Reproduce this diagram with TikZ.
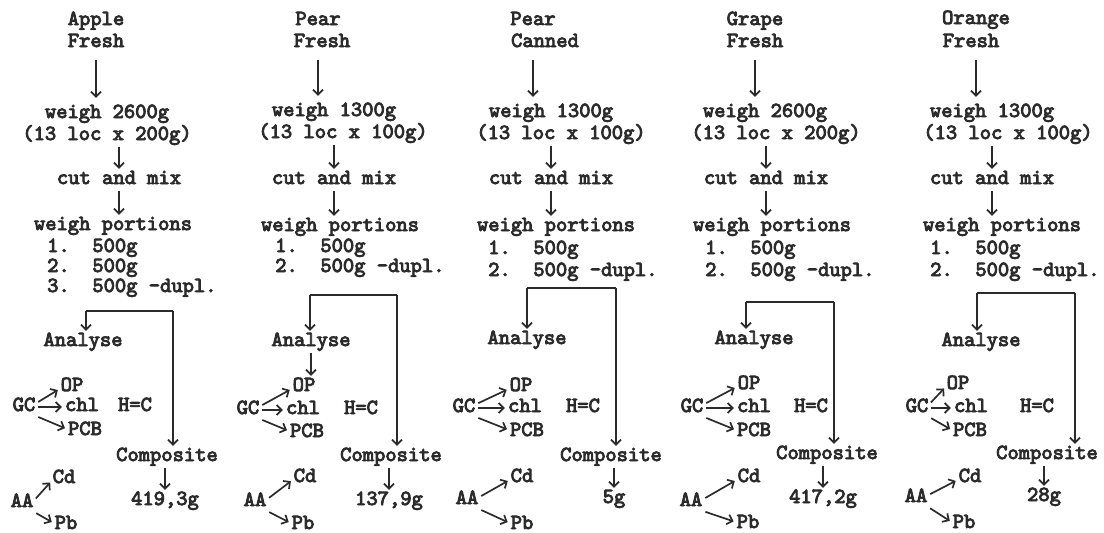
\documentclass[tikz,border=0pt]{standalone}
\usepackage{fontspec}
\newfontfamily\typew{lmmono10-regular.otf}[FakeBold=4]
\usetikzlibrary{arrows.meta}
\definecolor{typeInk}{HTML}{2B2B2B}

\begin{document}
\begin{tikzpicture}[
  x=1pt, y=-1pt,
  every node/.style={
    font=\typew\fontsize{21.5}{24}\selectfont,
    text=typeInk, text height=10pt, text depth=2pt, inner sep=1pt
  },
  item/.style={anchor=west},
  flow/.style={
    draw=typeInk, line width=1.7pt,
    -{Straight Barb[length=5pt,width=10pt]},
    shorten <=4pt, shorten >=4pt
  },
  twig/.style={flow, shorten <=2pt, shorten >=2pt},
  bar/.style={draw=typeInk, line width=1.7pt},
]
\useasboundingbox (0,0) rectangle (1104,533);

% === Apple / Fresh ===
\node (fruit1) at (96,21) {Apple};
\node (kind1) at (96,43) {Fresh};
\node (wg1) at (107,114) {weigh 2600g};
\node (loc1) at (107,136) {(13 loc x 200g)};
\node (cut1) at (119,180) {cut and mix};
\node (por1) at (113,226) {weigh portions};
\node[item] (one1) at (46,248) {1.\ \ 500g};
\node[item] (two1) at (46,268) {2.\ \ 500g};
\node[item] (three1) at (46,288) {3.\ \ 500g -dupl.};
\coordinate (sp1) at (86,311);
\coordinate (cr1) at (173,311);
\node (an1) at (83,342) {Analyse};
\node (op1) at (72,387) {OP};
\node (gc1) at (24,407) {GC};
\node (ch1) at (82,407) {chl};
\node (hc1) at (135,407) {H=C};
\node (pc1) at (85,431) {PCB};
\node (cp1) at (167,457) {Composite};
\node (res1) at (165,501) {419,3g};
\node (cd1) at (64,479) {Cd};
\node (aa1) at (22,503) {AA};
\node (pb1) at (66,525) {Pb};

% === Pear / Fresh ===
\node (fruit2) at (318,21) {Pear};
\node (kind2) at (322,43) {Fresh};
\node (wg2) at (334,112) {weigh 1300g};
\node (loc2) at (343,134) {(13 loc x 100g)};
\node (cut2) at (334,180) {cut and mix};
\node (por2) at (340,227) {weigh portions};
\node[item] (one2) at (274,248) {1.\ \ 500g};
\node[item] (two2) at (274,268) {2.\ \ 500g -dupl.};
\coordinate (sp2) at (310,295);
\coordinate (cr2) at (397,295);
\node (an2) at (311,342) {Analyse};
\node (op2) at (304,387) {OP};
\node (gc2) at (248,410) {GC};
\node (ch2) at (303,410) {chl};
\node (hc2) at (361,410) {H=C};
\node (pc2) at (307,433) {PCB};
\node (cp2) at (391,457) {Composite};
\node (res2) at (389,501) {137,9g};
\node (cd2) at (305,478) {Cd};
\node (aa2) at (255,502) {AA};
\node (pb2) at (303,525) {Pb};

% === Pear / Canned ===
\node (fruit3) at (533,21) {Pear};
\node (kind3) at (545,43) {Canned};
\node (wg3) at (551,113) {weigh 1300g};
\node (loc3) at (561,135) {(13 loc x 100g)};
\node (cut3) at (551,180) {cut and mix};
\node (por3) at (556,227) {weigh portions};
\node[item] (one3) at (487,250) {1.\ \ 500g};
\node[item] (two3) at (487,272) {2.\ \ 500g -dupl.};
\coordinate (sp3) at (527,288);
\coordinate (cr3) at (616,288);
\node (an3) at (527,340) {Analyse};
\node (op3) at (521,387) {OP};
\node (gc3) at (464,408) {GC};
\node (ch3) at (525,408) {chl};
\node (hc3) at (583,408) {H=C};
\node (pc3) at (527,432) {PCB};
\node (cp3) at (611,457) {Composite};
\node (res3) at (614,499) {5g};
\node (cd3) at (522,478) {Cd};
\node (aa3) at (467,500) {AA};
\node (pb3) at (522,525) {Pb};

% === Grape / Fresh ===
\node (fruit4) at (755,21) {Grape};
\node (kind4) at (755,43) {Fresh};
\node (wg4) at (765,113) {weigh 2600g};
\node (loc4) at (776,135) {(13 loc x 200g)};
\node (cut4) at (766,180) {cut and mix};
\node (por4) at (772,227) {weigh portions};
\node[item] (one4) at (704,250) {1.\ \ 500g};
\node[item] (two4) at (704,272) {2.\ \ 500g -dupl.};
\coordinate (sp4) at (746,302);
\coordinate (cr4) at (834,302);
\node (an4) at (754,340) {Analyse};
\node (op4) at (749,385) {OP};
\node (gc4) at (692,408) {GC};
\node (ch4) at (754,408) {chl};
\node (hc4) at (811,408) {H=C};
\node (pc4) at (754,432) {PCB};
\node (cp4) at (827,455) {Composite};
\node (res4) at (823,499) {417,2g};
\node (cd4) at (749,478) {Cd};
\node (aa4) at (691,502) {AA};
\node (pb4) at (748,524) {Pb};

% === Orange / Fresh ===
\node (fruit5) at (976,20) {Orange};
\node (kind5) at (971,43) {Fresh};
\node (wg5) at (992,113) {weigh 1300g};
\node (loc5) at (1008,135) {(13 loc x 100g)};
\node (cut5) at (992,180) {cut and mix};
\node (por5) at (1002,227) {weigh portions};
\node[item] (one5) at (929,250) {1.\ \ 500g};
\node[item] (two5) at (929,272) {2.\ \ 500g -dupl.};
\coordinate (sp5) at (977,293);
\coordinate (cr5) at (1075,293);
\node (an5) at (981,342) {Analyse};
\node (op5) at (958,385) {OP};
\node (gc5) at (917,408) {GC};
\node (ch5) at (971,408) {chl};
\node (hc5) at (1037,408) {H=C};
\node (pc5) at (970,432) {PCB};
\node (cp5) at (1047,455) {Composite};
\node (res5) at (1044,497) {28g};
\node (cd5) at (970,478) {Cd};
\node (aa5) at (916,498) {AA};
\node (pb5) at (964,524) {Pb};

% === Flow down each column ===
\foreach \c in {1,...,5} {
  \draw[flow, shorten <=10pt, shorten >=9pt]
    (kind\c.south -| fruit\c) -- (fruit\c |- wg\c.north);
  \draw[flow] (loc\c.south -| cut\c) -- (cut\c.north);
  \draw[flow] (cut\c.south) -- (cut\c.south |- por\c.north);
  % split into analyse / composite
  \draw[bar] (sp\c) -- (cr\c);
  \draw[flow, shorten <=0pt] (sp\c) -- (sp\c |- an\c.north);
  \draw[flow, shorten <=0pt] (cr\c) -- (cr\c |- cp\c.north);
  \draw[flow] (cp\c.south -| res\c) -- (res\c.north);
  % GC and AA branches
  \draw[twig] ([yshift=4pt]gc\c.east) -- ([yshift=-2pt]op\c.west);
  \draw[twig] (gc\c.east) -- (ch\c.west);
  \draw[twig] ([yshift=-2pt]gc\c.south east) -- ([yshift=2pt]pc\c.west);
  \draw[twig] ([yshift=3pt]aa\c.east) -- ([yshift=-2pt]cd\c.west);
  \draw[twig] ([yshift=-2pt]aa\c.south east) -- ([yshift=2pt]pb\c.west);
}
\draw[flow] (an2.south) -- (an2.south |- op2.north);

\end{tikzpicture}
\end{document}
